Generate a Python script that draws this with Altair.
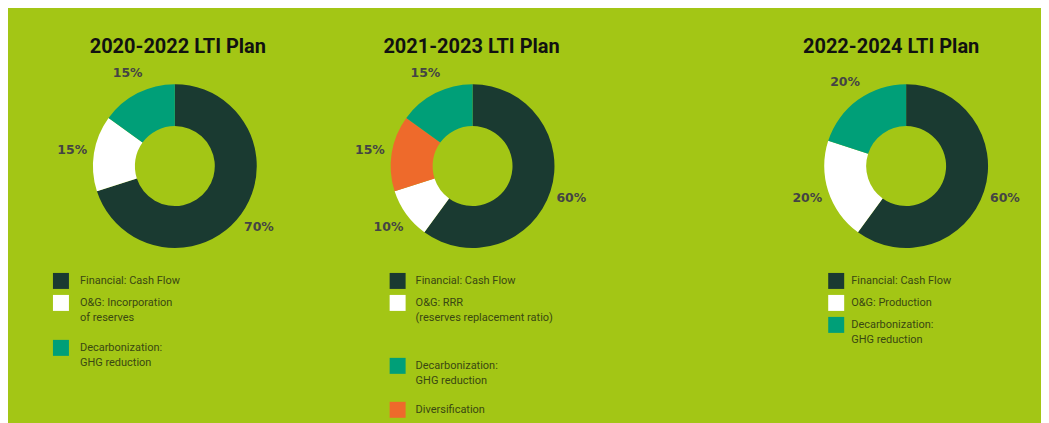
import altair as alt
import pandas as pd

# ---------------- data ----------------
KINDS = ["cash", "og", "decarb", "divers"]
KIND_COLORS = ["#1a3a31", "#ffffff", "#009f78", "#ee6a2b"]

titles = ["2020-2022 LTI Plan", "2021-2023 LTI Plan", "2022-2024 LTI Plan"]

# pie slices, clockwise from 12 o'clock
p1_kinds = ["cash", "og", "decarb"]
p1_values = [70, 15, 15]
p2_kinds = ["cash", "og", "divers", "decarb"]
p2_values = [60, 10, 15, 15]
p3_kinds = ["cash", "og", "decarb"]
p3_values = [60, 20, 20]

# legends
l1_kinds = ["cash", "og", "decarb"]
l1_labels = ["Financial: Cash Flow", "O&G: Incorporation\nof reserves", "Decarbonization:\nGHG reduction"]
l2_kinds = ["cash", "og", "decarb", "divers"]
l2_labels = ["Financial: Cash Flow", "O&G: RRR\n(reserves replacement ratio)",
             "Decarbonization:\nGHG reduction", "Diversification"]
l3_kinds = ["cash", "og", "decarb"]
l3_labels = ["Financial: Cash Flow", "O&G: Production", "Decarbonization:\nGHG reduction"]

# ---------------- layout ----------------
H = 415
CY = 158
LINE_H = 15
layouts = [
    dict(width=322, cx=167, title_cx=170, rows=[273, 295, 340], sq_x=53, txt_x=72),
    dict(width=360, cx=143, title_cx=142, rows=[273, 295, 358, 402], sq_x=68, txt_x=86),
    dict(width=352, cx=217, title_cx=202, rows=[273, 295, 317], sq_x=147, txt_x=162),
]

color_scale = alt.Scale(domain=KINDS, range=KIND_COLORS)


def panel(title, kinds, values, leg_kinds, leg_labels, lay):
    W = lay["width"]
    yscale = alt.Scale(domain=[0, H], range=[0, H])
    pie_df = pd.DataFrame({"kind": kinds, "value": values,
                           "order": list(range(len(kinds)))})
    pie_df["label"] = [f"{v}%" for v in values]
    base = alt.Chart(pie_df).encode(
        theta=alt.Theta("value:Q", stack=True),
        order=alt.Order("order:Q"),
        x=alt.value(lay["cx"]),
        y=alt.value(CY),
    )
    arcs = base.mark_arc(innerRadius=40, outerRadius=82).encode(
        color=alt.Color("kind:N", scale=color_scale, legend=None)
    )
    labels = base.mark_text(
        radius=104, font="DejaVu Sans", fontWeight="bold", fontSize=12.5, color="#444444"
    ).encode(text="label:N")

    title_mark = alt.Chart(pd.DataFrame({"t": [title]})).mark_text(
        font="Roboto", fontWeight="bold", fontSize=20, color="#111111"
    ).encode(text="t:N", x=alt.value(lay["title_cx"]), y=alt.value(39))

    leg_df = pd.DataFrame({"kind": leg_kinds, "ry": lay["rows"]})
    squares = alt.Chart(leg_df).mark_square(size=256, opacity=1, filled=True).encode(
        x=alt.value(lay["sq_x"]),
        y=alt.Y("ry:Q", scale=yscale, axis=None),
        color=alt.Color("kind:N", scale=color_scale, legend=None),
    )
    line_rows = []
    for lab, ry in zip(leg_labels, lay["rows"]):
        for i, ln in enumerate(lab.split("\n")):
            line_rows.append({"txt": ln, "ry": ry + i * LINE_H})
    txt = alt.Chart(pd.DataFrame(line_rows)).mark_text(
        align="left", baseline="middle", font="Roboto", fontSize=11, color="#3a4812"
    ).encode(
        x=alt.value(lay["txt_x"]),
        y=alt.Y("ry:Q", scale=yscale, axis=None),
        text="txt:N",
    )
    return alt.layer(arcs, labels, title_mark, squares, txt).properties(width=W, height=H)


p1 = panel(titles[0], p1_kinds, p1_values, l1_kinds, l1_labels, layouts[0])
p2 = panel(titles[1], p2_kinds, p2_values, l2_kinds, l2_labels, layouts[1])
p3 = panel(titles[2], p3_kinds, p3_values, l3_kinds, l3_labels, layouts[2])

chart = alt.hconcat(p1, p2, p3, spacing=0).configure(
    background="#a3c615", padding=0
).configure_view(stroke=None)

chart.save("out.html", embed_options={"renderer": "svg", "actions": False})
